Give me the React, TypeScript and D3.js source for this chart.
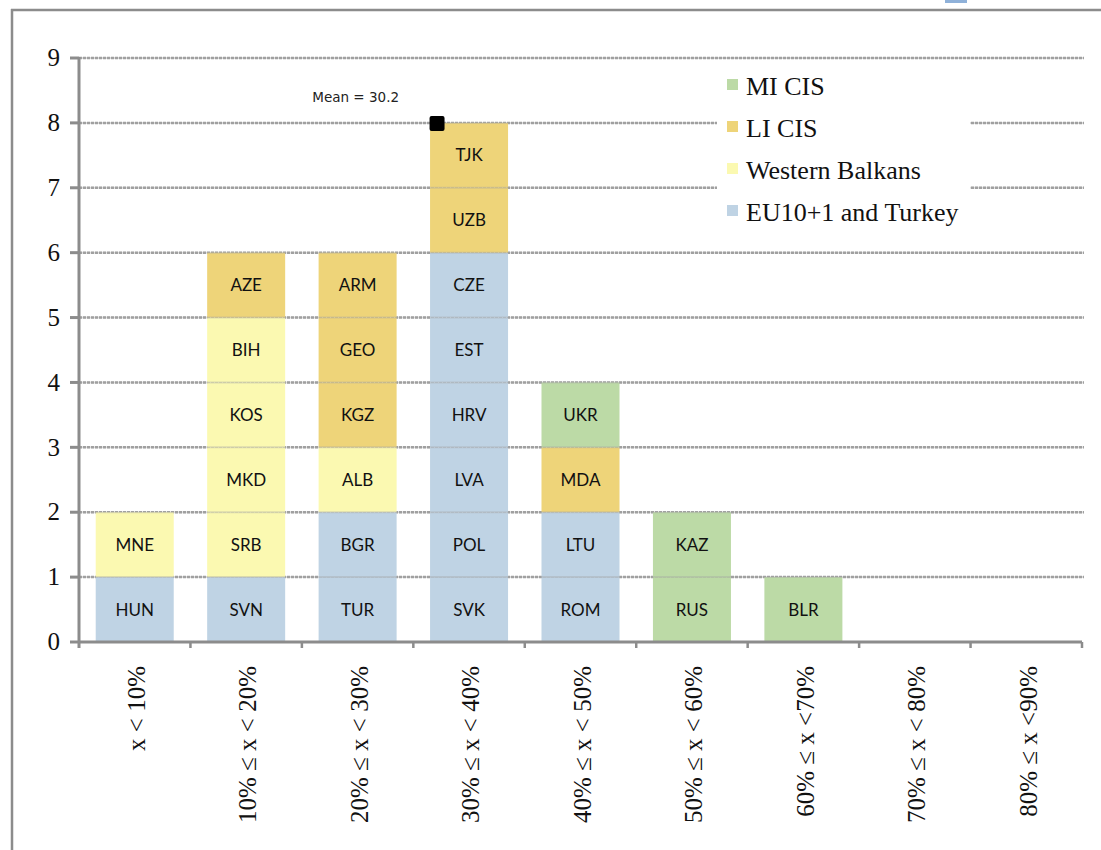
import React from 'react';
import * as d3 from 'd3';

const binLabels = [
  'x < 10%',
  '10% ≤ x < 20%',
  '20% ≤ x < 30%',
  '30% ≤ x < 40%',
  '40% ≤ x < 50%',
  '50% ≤ x < 60%',
  '60% ≤ x <70%',
  '70% ≤ x < 80%',
  '80% ≤ x <90%',
];

const groupNames = ['MI CIS', 'LI CIS', 'Western Balkans', 'EU10+1 and Turkey'];
const groupColors = ['#bcdaa6', '#eed479', '#fbf9b1', '#bfd3e4'];

// countries stacked bottom to top inside each bin
const countryCodes = [
  'HUN', 'MNE',
  'SVN', 'SRB', 'MKD', 'KOS', 'BIH', 'AZE',
  'TUR', 'BGR', 'ALB', 'KGZ', 'GEO', 'ARM',
  'SVK', 'POL', 'LVA', 'HRV', 'EST', 'CZE', 'UZB', 'TJK',
  'ROM', 'LTU', 'MDA', 'UKR',
  'RUS', 'KAZ',
  'BLR',
];
const countryGroups = [
  'EU10+1 and Turkey', 'Western Balkans',
  'EU10+1 and Turkey', 'Western Balkans', 'Western Balkans', 'Western Balkans', 'Western Balkans', 'LI CIS',
  'EU10+1 and Turkey', 'EU10+1 and Turkey', 'Western Balkans', 'LI CIS', 'LI CIS', 'LI CIS',
  'EU10+1 and Turkey', 'EU10+1 and Turkey', 'EU10+1 and Turkey', 'EU10+1 and Turkey', 'EU10+1 and Turkey', 'EU10+1 and Turkey', 'LI CIS', 'LI CIS',
  'EU10+1 and Turkey', 'EU10+1 and Turkey', 'LI CIS', 'MI CIS',
  'MI CIS', 'MI CIS',
  'MI CIS',
];
const countryBins = [
  0, 0,
  1, 1, 1, 1, 1, 1,
  2, 2, 2, 2, 2, 2,
  3, 3, 3, 3, 3, 3, 3, 3,
  4, 4, 4, 4,
  5, 5,
  6,
];

const yTicks = [0, 1, 2, 3, 4, 5, 6, 7, 8, 9];
const meanValue = 30.2;

const W = 1101;
const H = 850;
const margin = { left: 79, right: 19, top: 58, bottom: 208 };

export default function App() {
  const x = d3
    .scaleBand<number>()
    .domain(d3.range(binLabels.length))
    .range([margin.left, W - margin.right])
    .paddingInner(0.3)
    .paddingOuter(0.15);
  const y = d3.scaleLinear().domain([0, 9]).range([H - margin.bottom, margin.top]);
  const color = d3.scaleOrdinal<string, string>().domain(groupNames).range(groupColors);

  // stack one unit per country
  const counts: number[] = binLabels.map(() => 0);
  const cells = countryCodes.map((code, i) => {
    const bin = countryBins[i];
    const y0 = counts[bin];
    counts[bin] += 1;
    return { code, group: countryGroups[i], bin, y0, y1: y0 + 1 };
  });

  const meanBin = Math.floor(meanValue / 10);
  const meanX = (x(meanBin) as number) + 7;
  const meanY = y(counts[meanBin]);

  const step = x.step();
  const x0 = margin.left;
  const xEnd = W - margin.right;
  const gridEnd = xEnd + 2;
  const boundaries = d3.range(1, binLabels.length + 1).map((i) => x0 + i * step);

  const gridColor = '#a0a0a0';
  const axisColor = '#8c8c8c';
  const serif = '"Liberation Serif", "Times New Roman", serif';
  const sans = 'Lato, "Open Sans", sans-serif';

  return (
    <svg width={W} height={H} style={{ position: 'absolute', left: 0, top: 0, background: '#fff' }}>
      {/* page frame */}
      <line x1={11} x2={W} y1={10} y2={10} stroke={axisColor} strokeWidth={2.5} />
      <line x1={12} x2={12} y1={9} y2={H} stroke={axisColor} strokeWidth={2.5} />
      <rect x={945} y={0} width={22} height={3} fill="#8fb1d9" />

      {/* gridlines */}
      {yTicks.slice(1).map((t) => (
        <line key={'g' + t} x1={x0} x2={gridEnd} y1={y(t)} y2={y(t)} stroke={gridColor} strokeWidth={2.5} strokeDasharray="3,1" />
      ))}

      {/* bars */}
      {cells.map((c) => (
        <rect
          key={c.code}
          x={x(c.bin)}
          y={y(c.y1)}
          width={x.bandwidth()}
          height={y(c.y0) - y(c.y1)}
          fill={color(c.group)}
        />
      ))}

      {/* faint gridlines through the bars */}
      {yTicks.slice(1).map((t) => (
        <line key={'f' + t} x1={x0} x2={gridEnd} y1={y(t)} y2={y(t)} stroke={gridColor} strokeWidth={2} strokeOpacity={0.35} />
      ))}

      {cells.map((c) => (
        <text
          key={'t' + c.code}
          x={(x(c.bin) as number) + x.bandwidth() / 2}
          y={y((c.y0 + c.y1) / 2)}
          dy="0.36em"
          textAnchor="middle"
          fontFamily={sans}
          fontSize={17}
          fill="#111"
        >
          {c.code}
        </text>
      ))}

      {/* legend */}
      <rect x={717} y={66} width={253} height={172} fill="#fff" />
      {groupNames.map((g, i) => (
        <g key={g} transform={`translate(727, ${95 + i * 42})`}>
          <rect x={0} y={-16} width={11} height={11} fill={color(g)} />
          <text x={19} y={0} fontFamily={serif} fontSize={26} fill="#111">
            {g}
          </text>
        </g>
      ))}

      {/* mean marker */}
      <rect x={meanX - 7.5} y={meanY - 7} width={15} height={15} rx={2} fill="#000" />
      <text x={meanX - 38} y={meanY - 21} textAnchor="end" fontFamily='"DejaVu Sans", sans-serif' fontSize={13.5} fill="#222">
        Mean = 30.2
      </text>

      {/* y axis */}
      <line x1={x0} x2={x0} y1={y(9) - 1} y2={y(0) + 6} stroke={axisColor} strokeWidth={3} />
      {yTicks.map((t) => (
        <g key={'y' + t}>
          <line x1={x0 - 9} x2={x0} y1={y(t)} y2={y(t)} stroke={axisColor} strokeWidth={3} />
          <text x={x0 - 19} y={y(t)} dy="0.33em" textAnchor="end" fontFamily={serif} fontSize={25} fill="#111">
            {t}
          </text>
        </g>
      ))}

      {/* x axis */}
      <line x1={x0} x2={xEnd} y1={y(0)} y2={y(0)} stroke={axisColor} strokeWidth={3} />
      {boundaries.map((bx, i) => (
        <line key={'xt' + i} x1={bx} x2={bx} y1={y(0)} y2={y(0) + 6} stroke={axisColor} strokeWidth={2.5} />
      ))}
      {binLabels.map((l, i) => {
        const cx = x0 + (i + 0.5) * step;
        return (
          <text
            key={l}
            transform={`translate(${cx + 2}, 666) rotate(-90)`}
            dy="0.33em"
            textAnchor="end"
            fontFamily={serif}
            fontSize={25}
            fill="#111"
          >
            {l}
          </text>
        );
      })}
    </svg>
  );
}
